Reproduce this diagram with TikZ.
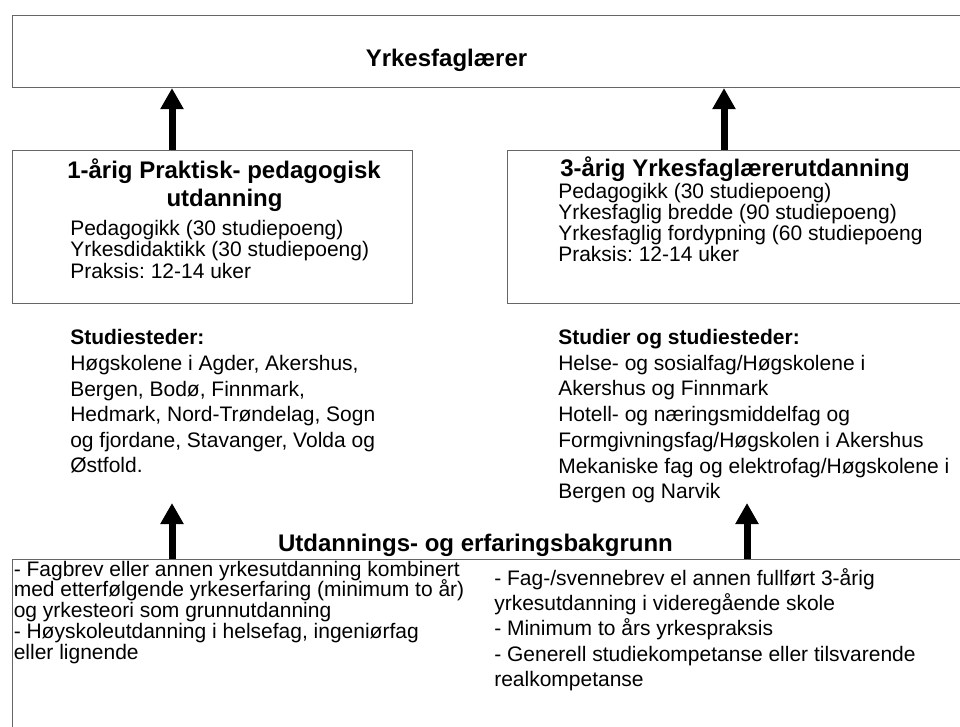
\documentclass[tikz,border=0pt]{standalone}
\usepackage{fontspec}
\setmainfont{Liberation Sans}
\usetikzlibrary{arrows.meta}
\frenchspacing
\begin{document}
\begin{tikzpicture}[x=0.75pt,y=-0.75pt,
  box/.style={draw=black!60, line width=0.8pt, rectangle, inner sep=0pt, anchor=north west},
  body/.style={font=\fontsize{15.75}{18}\selectfont, inner sep=0pt, anchor=base west},
  bodyb/.style={font=\fontsize{15.75}{18}\selectfont\bfseries, inner sep=0pt, anchor=base west},
  head/.style={font=\fontsize{18}{21}\selectfont\bfseries, inner sep=0pt, anchor=base},
  bigarr/.style={line width=5.25pt, -{Triangle[length=15.75pt,width=16.5pt]}}
]
\useasboundingbox (0,0) rectangle (960,726);
\clip (0,0) rectangle (960,726);
% boxes
\node[box, minimum width=722.25pt, minimum height=54pt] (top) at (12,15) {};
\node[box, minimum width=300pt, minimum height=114.75pt] (lbox) at (12,150) {};
\node[box, minimum width=351pt, minimum height=114.75pt] (rbox) at (507,150) {};
\node[box, minimum width=722.25pt, minimum height=136pt] (bbox) at (12,559) {};
% arrow positions
\coordinate (ax1) at (172,0);
\coordinate (ax2) at (724,0);
\coordinate (ax3) at (747,0);
\coordinate (t1) at (172,503);
\coordinate (t2) at (747,503);
% titles
\node[head] (ttl) at (446.5,66.7) {Yrkesfaglærer};
\node[head] (lt1) at (224,178) {1-årig Praktisk- pedagogisk};
\node[head] (lt2) at (224.5,206) {utdanning};
\node[head] (rt1) at (735,176.7) {3-årig Yrkesfaglærerutdanning};
\node[head] (bt) at (475.5,551.7) {Utdannings- og erfaringsbakgrunn};
% left box body
\foreach \t [count=\i] in {{Pedagogikk (30 studiepoeng)},{Yrkesdidaktikk (30 studiepoeng)},{Praksis: 12-14 uker}}
  \node[body] (lb\i) at (70,{235+21.5*(\i-1)}) {\t};
% right box body
\foreach \t [count=\i] in {{Pedagogikk (30 studiepoeng)},{Yrkesfaglig bredde (90 studiepoeng)},{Yrkesfaglig fordypning (60 studiepoeng},{Praksis: 12-14 uker}}
  \node[body] (rb\i) at (558,{198+21.2*(\i-1)}) {\t};
% lower left text
\node[bodyb] (lsh) at (70,344) {Studiesteder:};
\foreach \t [count=\i] in {{Høgskolene i Agder, Akershus,},{Bergen, Bodø, Finnmark,},{Hedmark, Nord-Trøndelag, Sogn},{og fjordane, Stavanger, Volda og},{Østfold.}}
  \node[body] (ls\i) at (70,{370.5+25.55*(\i-1)}) {\t};
% lower right text
\node[bodyb] (rsh) at (558,344) {Studier og studiesteder:};
\foreach \t [count=\i] in {{Helse- og sosialfag/Høgskolene i},{Akershus og Finnmark},{Hotell- og næringsmiddelfag og},{Formgivningsfag/Høgskolen i Akershus},{Mekaniske fag og elektrofag/Høgskolene i},{Bergen og Narvik}}
  \node[body] (rs\i) at (558,{370.2+25.75*(\i-1)}) {\t};
% bottom left column
\foreach \t [count=\i] in {{- Fagbrev eller annen yrkesutdanning kombinert},{med etterfølgende yrkeserfaring (minimum to år)},{og yrkesteori som grunnutdanning},{- Høyskoleutdanning i helsefag, ingeniørfag},{eller lignende}}
  \node[body] (bl\i) at (13.5,{576+20.8*(\i-1)}) {\t};
% bottom right column
\foreach \t [count=\i] in {{- Fag-/svennebrev el annen fullført 3-årig},{yrkesutdanning i videregående skole},{- Minimum to års yrkespraksis},{- Generell studiekompetanse eller tilsvarende},{realkompetanse}}
  \node[body] (br\i) at (494,{585+25.4*(\i-1)}) {\t};
% arrows
\draw[bigarr] (lbox.north -| ax1) -- (top.south -| ax1);
\draw[bigarr] (rbox.north -| ax2) -- (top.south -| ax2);
\draw[bigarr] (bbox.north -| ax1) -- (t1);
\draw[bigarr] (bbox.north -| ax3) -- (t2);
\end{tikzpicture}
\end{document}
